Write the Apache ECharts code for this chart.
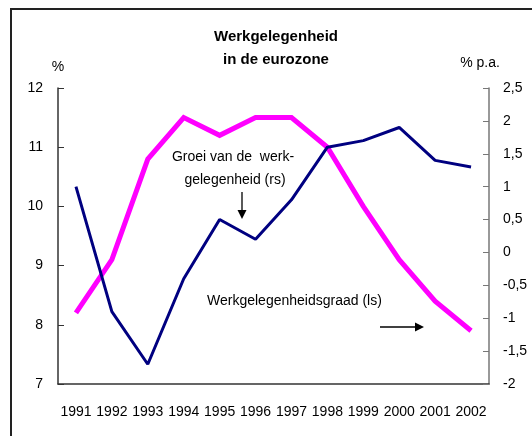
<!DOCTYPE html>
<html>
<head>
<meta charset="utf-8">
<title>Werkgelegenheid in de eurozone</title>
<script src="https://cdn.jsdelivr.net/npm/echarts@6/dist/echarts.min.js"></script>
<style>
  html, body { margin: 0; padding: 0; background: #fff; }
  #chart { width: 532px; height: 436px; }
</style>
</head>
<body>
<div id="chart"></div>
<script>
// jaren op de x-as
var years = ["1991", "1992", "1993", "1994", "1995", "1996", "1997", "1998", "1999", "2000", "2001", "2002"];
// werkgelegenheidsgraad, % (linkerschaal)
var employmentRate = [8.2, 9.1, 10.8, 11.5, 11.2, 11.5, 11.5, 11.0, 10.0, 9.1, 8.4, 7.9];
// groei van de werkgelegenheid, % p.a. (rechterschaal)
var employmentGrowth = [1.0, -0.9, -1.7, -0.4, 0.5, 0.2, 0.8, 1.6, 1.7, 1.9, 1.4, 1.3];
// tekst
var titleLines = ["Werkgelegenheid", "in de eurozone"];
var growthLabel = ["Groei van de  werk-", "gelegenheid (rs)"];
var rateLabel = "Werkgelegenheidsgraad (ls)";

// geen Arial Narrow beschikbaar: Liberation Sans iets kleiner
var font = "'Liberation Sans', Arial, sans-serif";
var fs = 14;

var chart = echarts.init(document.getElementById("chart"));

// pijltje: lijn + driehoekje
function arrow(x1, y1, x2, y2) {
  var dx = x2 - x1, dy = y2 - y1;
  var len = Math.sqrt(dx * dx + dy * dy);
  var ux = dx / len, uy = dy / len;
  var bx = x2 - ux * 9, by = y2 - uy * 9;
  return [
    { type: "line", shape: { x1: x1, y1: y1, x2: bx, y2: by }, style: { stroke: "#000", lineWidth: 1.3 } },
    {
      type: "polygon",
      shape: { points: [[x2, y2], [bx - uy * 4.5, by + ux * 4.5], [bx + uy * 4.5, by - ux * 4.5]] },
      style: { fill: "#000" }
    }
  ];
}

// losse regel tekst, gecentreerd rond (x, y)
function label(text, x, y, align) {
  return {
    type: "text",
    style: {
      text: text, x: x, y: y,
      align: align || "center", verticalAlign: "middle",
      fontFamily: font, fontSize: fs, fill: "#000"
    }
  };
}

var option = {
  animation: false,
  textStyle: { fontFamily: font },
  title: {
    text: titleLines.join("\n"),
    left: 271,
    top: 20,
    textAlign: "center",
    textStyle: { fontFamily: font, fontSize: 15, fontWeight: "bold", color: "#000", lineHeight: 23 }
  },
  grid: { left: 58, right: 43, top: 88, bottom: 52 },
  xAxis: {
    type: "category",
    data: years,
    boundaryGap: true,
    axisLine: { onZero: false, lineStyle: { color: "#333", width: 1.5 } },
    axisTick: { inside: true, length: 5, lineStyle: { color: "#333" } },
    axisLabel: { margin: 21, fontSize: fs, color: "#000", fontFamily: font, interval: 0 }
  },
  yAxis: [
    {
      type: "value",
      min: 7,
      max: 12,
      interval: 1,
      name: "%",
      nameLocation: "end",
      nameGap: 14,
      nameTextStyle: { fontSize: fs, color: "#000", fontFamily: font },
      splitLine: { show: false },
      axisLine: { show: true, lineStyle: { color: "#333", width: 1.5 } },
      axisTick: { show: true, inside: true, length: 6, lineStyle: { color: "#333" } },
      axisLabel: { margin: 15, fontSize: fs, color: "#000", fontFamily: font }
    },
    {
      type: "value",
      min: -2,
      max: 2.5,
      interval: 0.5,
      position: "right",
      name: "% p.a.",
      nameLocation: "end",
      nameGap: 18,
      nameTextStyle: { fontSize: fs, color: "#000", fontFamily: font, padding: [0, 18, 0, 0] },
      splitLine: { show: false },
      axisLine: { show: true, lineStyle: { color: "#777", width: 1.5 } },
      axisTick: { show: true, inside: true, length: 6, lineStyle: { color: "#777" } },
      axisLabel: {
        margin: 14,
        fontSize: fs,
        color: "#000",
        fontFamily: font,
        formatter: function (v) { return String(v).replace(".", ","); }
      }
    }
  ],
  series: [
    {
      name: "Werkgelegenheidsgraad (ls)",
      type: "line",
      yAxisIndex: 0,
      data: employmentRate,
      symbol: "none",
      lineStyle: { color: "#ff00ff", width: 5, join: "miter" }
    },
    {
      name: "Groei van de werkgelegenheid (rs)",
      type: "line",
      yAxisIndex: 1,
      data: employmentGrowth,
      symbol: "none",
      lineStyle: { color: "#000080", width: 3 }
    }
  ],
  graphic: [
    // kader om de grafiek (alleen links en boven)
    {
      type: "polyline",
      shape: { points: [[11, 436], [11, 9], [532, 9]] },
      style: { stroke: "#222", lineWidth: 2, fill: null }
    },
    label(growthLabel[0], 233, 157),
    label(growthLabel[1], 235, 180),
    label(rateLabel, 207, 301, "left")
  ].concat(arrow(242, 192, 242, 219), arrow(380, 327, 424, 327))
};

chart.setOption(option);
</script>
</body>
</html>
